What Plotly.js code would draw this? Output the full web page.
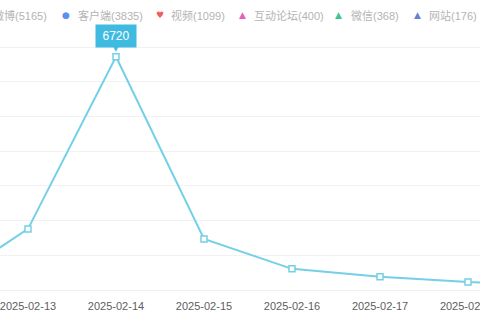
<!DOCTYPE html>
<html>
<head>
<meta charset="utf-8">
<script src="https://cdn.plot.ly/plotly-3.0.1.min.js"></script>
<style>
html,body{margin:0;padding:0;background:#fff;}
#chart{width:480px;height:320px;}
</style>
</head>
<body>
<div id="chart"></div>
<script>
// Data
var dates = ['2025-02-12','2025-02-13','2025-02-14','2025-02-15','2025-02-16','2025-02-17','2025-02-18','2025-02-19'];
var values = [80, 1760, 6720, 1470, 610, 380, 230, 150];
var seriesNames = ['微博','客户端','视频','互动论坛','微信','网站'];
var seriesTotals = [5165, 3835, 1099, 400, 368, 176];
var peakLabel = '6720';

// Styles
var legendIcons = ['●','●','♥','▲','▲','▲'];
var legendColors = ['#8fb3f0','#5b8ff2','#ee5d5a','#e55fbf','#3fc48e','#6a7fd1'];
var iconX = [-20, 66, 160, 242, 338, 417];
var textX = [-9, 76, 169, 252, 349, 427];
var iconSize = [9, 9, 9, 9, 9, 9];

var lineColor = '#74d0e7';
var tipColor = '#3fbbe2';

var trace = {
  x: dates,
  y: values,
  type: 'scatter',
  mode: 'lines+markers',
  line: {color: lineColor, width: 2},
  marker: {symbol: 'square', size: 6, color: '#ffffff', line: {color: lineColor, width: 1.5}},
  showlegend: false,
  hoverinfo: 'skip'
};

var annotations = [];
for (var i = 0; i < seriesNames.length; i++) {
  annotations.push({
    xref: 'paper', yref: 'paper',
    x: iconX[i] / 480, y: 1,
    xanchor: 'center', yanchor: 'middle',
    text: legendIcons[i], showarrow: false,
    font: {size: iconSize[i], color: legendColors[i], family: 'DejaVu Sans'}
  });
  annotations.push({
    xref: 'paper', yref: 'paper',
    x: textX[i] / 480, y: 1,
    xanchor: 'left', yanchor: 'middle',
    text: seriesNames[i] + '(' + seriesTotals[i] + ')', showarrow: false,
    font: {size: 11, color: '#b4b4b4', family: 'Liberation Sans, Noto Sans CJK SC, sans-serif'}
  });
}
// legend row sits ~31px above the plot top
annotations.forEach(function(a){ a.yshift = 31; });

// peak tooltip
var peakIdx = values.indexOf(Math.max.apply(null, values));
annotations.push({
  xref: 'x', yref: 'y', x: dates[peakIdx], y: values[peakIdx],
  text: peakLabel, showarrow: false, yshift: 21,
  xanchor: 'center', yanchor: 'middle',
  bgcolor: tipColor, width: 40, height: 22, borderpad: 0,
  font: {size: 12, color: '#ffffff', family: 'Liberation Sans, sans-serif'}
});
annotations.push({
  xref: 'x', yref: 'y', x: dates[peakIdx], y: values[peakIdx],
  text: '▼', showarrow: false, yshift: 8,
  xanchor: 'center', yanchor: 'middle',
  font: {size: 7, color: tipColor, family: 'DejaVu Sans'}
});

var layout = {
  width: 480, height: 320,
  margin: {l: 0, r: 0, t: 46, b: 30, pad: 0},
  paper_bgcolor: '#ffffff', plot_bgcolor: '#ffffff',
  showlegend: false,
  xaxis: {
    type: 'category',
    categoryorder: 'array', categoryarray: dates,
    range: [0.682, 6.136],
    showgrid: false, zeroline: false,
    showline: true, linecolor: '#eeeeee', linewidth: 1,
    ticks: '', ticklen: 0, ticklabelstandoff: 6,
    tickfont: {size: 11, color: '#5e5e5e', family: 'Liberation Sans, sans-serif'},
    fixedrange: true
  },
  yaxis: {
    range: [0, 7030],
    dtick: 1000, tick0: 0,
    showgrid: true, gridcolor: '#f2f2f2', gridwidth: 1,
    zeroline: false, showticklabels: false, ticks: '',
    fixedrange: true
  },
  annotations: annotations
};

Plotly.newPlot('chart', [trace], layout, {displayModeBar: false, staticPlot: true});
</script>
</body>
</html>
